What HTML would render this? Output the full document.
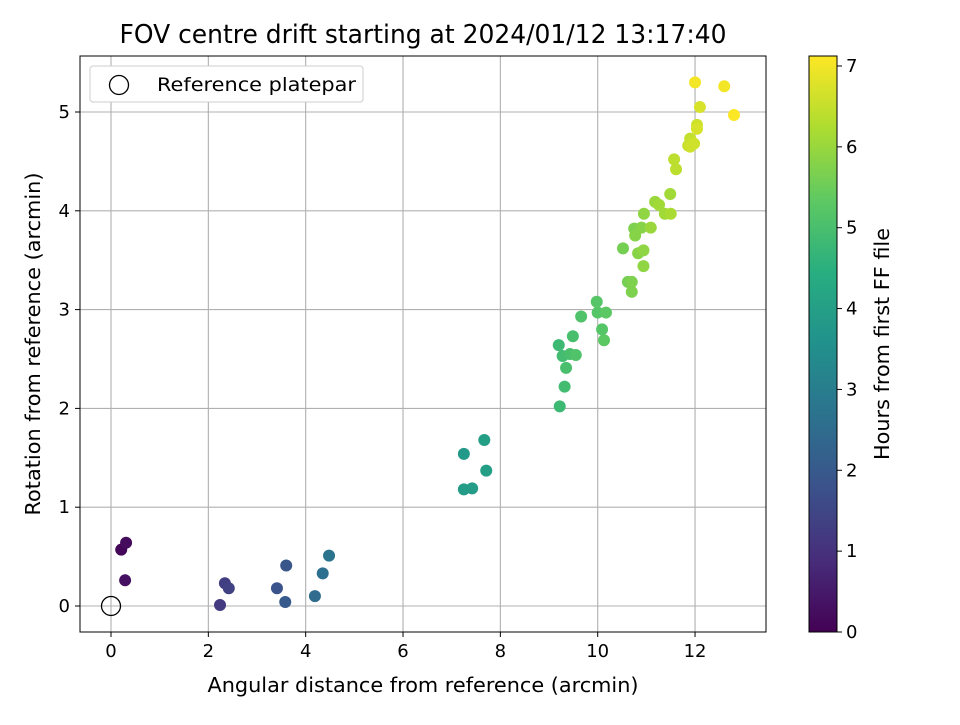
<!DOCTYPE html>
<html><head><meta charset="utf-8"><style>
body{margin:0;background:#fff;font-family:"Liberation Sans","DejaVu Sans",sans-serif}
svg text{font-family:"DejaVu Sans","Liberation Sans",sans-serif;fill:#000}
</style></head><body>
<svg id="chart" width="960" height="720" viewBox="0 0 960 720">
<defs><linearGradient id="vir" x1="0" y1="1" x2="0" y2="0">
<stop offset="0" stop-color="#440154"/><stop offset="0.125" stop-color="#472d7b"/><stop offset="0.25" stop-color="#3b528b"/><stop offset="0.375" stop-color="#2c728e"/><stop offset="0.5" stop-color="#21918c"/><stop offset="0.625" stop-color="#28ae80"/><stop offset="0.75" stop-color="#5ec962"/><stop offset="0.875" stop-color="#addc30"/><stop offset="1" stop-color="#fde725"/>
</linearGradient></defs>
<text x="423" y="43" font-size="26" text-anchor="middle" textLength="607" lengthAdjust="spacingAndGlyphs">FOV centre drift starting at 2024/01/12 13:17:40</text>
<g id="grid"></g><g id="pts"></g><g id="axes"></g>
<rect x="809" y="56" width="28" height="576" fill="url(#vir)" stroke="#000" stroke-width="1"/>
<g id="cbar"></g>
<text x="423" y="692" font-size="20" text-anchor="middle" textLength="431" lengthAdjust="spacingAndGlyphs">Angular distance from reference (arcmin)</text>
<text transform="translate(40,344) rotate(-90)" font-size="20" text-anchor="middle" textLength="343" lengthAdjust="spacingAndGlyphs">Rotation from reference (arcmin)</text>
<text transform="translate(889,344) rotate(-90)" font-size="20" text-anchor="middle" textLength="232" lengthAdjust="spacingAndGlyphs">Hours from first FF file</text>
<g>
<rect x="90" y="66" width="273" height="36" rx="3" fill="#fff" stroke="#ccc"/>
<circle cx="119" cy="85" r="9.5" fill="none" stroke="#000" stroke-width="1.3"/>
<text x="157" y="91" font-size="19" textLength="199" lengthAdjust="spacingAndGlyphs">Reference platepar</text>
</g>
</svg>
<script>
const xs=[0.21,0.31,0.29,2.24,2.34,2.42,3.41,3.6,3.58,4.19,4.35,4.48,7.25,7.25,7.42,7.67,7.71,9.22,9.2,9.28,9.32,9.35,9.43,9.49,9.55,9.66,9.98,10.0,10.09,10.13,10.17,10.52,10.62,10.7,10.7,10.75,10.77,10.83,10.9,10.94,10.94,10.95,11.09,11.18,11.26,11.38,11.49,11.5,11.57,11.61,11.86,11.9,11.9,11.98,12.04,12.04,12.1,12.0,12.6,12.8];
const ys=[0.57,0.64,0.26,0.01,0.23,0.18,0.18,0.41,0.04,0.1,0.33,0.51,1.54,1.18,1.19,1.68,1.37,2.02,2.64,2.53,2.22,2.41,2.55,2.73,2.54,2.93,3.08,2.97,2.8,2.69,2.97,3.62,3.28,3.28,3.18,3.82,3.75,3.57,3.83,3.6,3.44,3.97,3.83,4.09,4.06,3.97,4.17,3.97,4.52,4.42,4.66,4.73,4.65,4.68,4.87,4.83,5.05,5.3,5.26,4.97];
const hours=[0.1,0.2,0.3,1.2,1.3,1.4,1.8,1.9,2.0,2.5,2.6,2.7,3.8,3.9,3.9,4.0,4.0,4.8,4.8,4.9,4.9,5.0,5.0,5.0,5.1,5.1,5.2,5.2,5.2,5.3,5.3,5.6,5.6,5.7,5.7,5.7,5.8,5.8,5.8,5.9,5.9,5.9,6.0,6.0,6.1,6.1,6.1,6.2,6.4,6.4,6.5,6.5,6.6,6.6,6.6,6.7,6.7,7.0,7.0,7.1];
const xTicks=[0,2,4,6,8,10,12], yTicks=[0,1,2,3,4,5], cTicks=[0,1,2,3,4,5,6,7];
const X=v=>111+v*48.67, Y=v=>606-v*98.8, C=v=>632-v*80.86;
const ns="http://www.w3.org/2000/svg";
function mk(p,t,a){const e=document.createElementNS(ns,t);for(const k in a)e.setAttribute(k,a[k]);p.appendChild(e);return e;}
const vir=[[68,1,84],[71,45,123],[59,82,139],[44,114,142],[33,145,140],[40,174,128],[94,201,98],[173,220,48],[253,231,37]];
function col(h){let t=Math.max(0,Math.min(1,h/7.12))*8;let i=Math.min(7,Math.floor(t)),f=t-i;const a=vir[i],b=vir[i+1];return `rgb(${a.map((v,k)=>Math.round(v+(b[k]-v)*f)).join(',')})`;}
const g=document.getElementById('grid'),ax=document.getElementById('axes'),pts=document.getElementById('pts'),cb=document.getElementById('cbar');
xTicks.forEach(v=>{const l=mk(g,'line',{x1:X(v),x2:X(v),y1:56,y2:632,stroke:'#b0b0b0','stroke-width':1.1});

mk(ax,'line',{x1:X(v),x2:X(v),y1:632,y2:637,stroke:'#000'});
const t=mk(ax,'text',{x:X(v),y:657,'font-size':18,'text-anchor':'middle'});t.textContent=v;
});
yTicks.forEach(v=>{const l=mk(g,'line',{x1:80,x2:766,y1:Y(v),y2:Y(v),stroke:'#b0b0b0','stroke-width':1.1});

mk(ax,'line',{x1:75,x2:80,y1:Y(v),y2:Y(v),stroke:'#000'});
const t=mk(ax,'text',{x:70,y:Y(v)+6,'font-size':18,'text-anchor':'end'});t.textContent=v;
});
const fr=mk(ax,'rect',{x:80,y:56,width:686,height:576,fill:'none',stroke:'#000','stroke-width':1});

xs.forEach((x,i)=>{const c=mk(pts,'circle',{cx:X(x),cy:Y(ys[i]),r:6,fill:col(hours[i])});
});
const r=mk(pts,'circle',{cx:X(0),cy:Y(0),r:9.5,fill:'none',stroke:'#000','stroke-width':1.3});

cTicks.forEach(v=>{mk(cb,'line',{x1:837,x2:842,y1:C(v),y2:C(v),stroke:'#000'});
const t=mk(cb,'text',{x:846,y:C(v)+6,'font-size':18});t.textContent=v;
});
</script>
</body></html>
